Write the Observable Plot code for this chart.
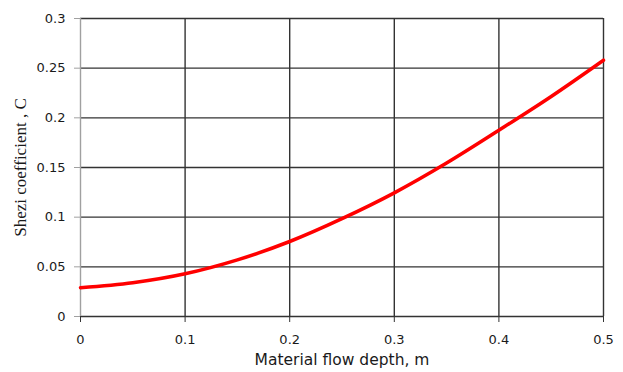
<!DOCTYPE html>
<html>
<head>
<meta charset="utf-8">
<script src="https://cdn.jsdelivr.net/npm/d3@7"></script>
<script src="https://cdn.jsdelivr.net/npm/@observablehq/plot@0.6"></script>
<style>
  html, body { margin: 0; padding: 0; background: #fff; }
  #chart svg { display: block; }
</style>
</head>
<body>
<div id="chart"></div>
<script>
// Data
const depth = [0, 0.05, 0.1, 0.15, 0.2, 0.25, 0.3, 0.35, 0.4, 0.45, 0.5];
const sheziC = [0.029, 0.034, 0.043, 0.057, 0.0755, 0.0985, 0.1245, 0.1545, 0.1875, 0.2215, 0.258];
const xTicks = [0, 0.1, 0.2, 0.3, 0.4, 0.5];
const yTicks = [0, 0.05, 0.1, 0.15, 0.2, 0.25, 0.3];
const xLabel = "Material flow depth, m";
const yLabel = "Shezi coefficient , C";

const data = depth.map((d, i) => ({x: d, y: sheziC[i]}));
const fmt = d => String(d);

const chart = Plot.plot({
  width: 623,
  height: 372,
  marginLeft: 80,
  marginRight: 20,
  marginTop: 18,
  marginBottom: 56,
  style: {fontFamily: "DejaVu Sans", fontSize: "13px", color: "#1a1a1a", background: "#fff"},
  x: {domain: [0, 0.5]},
  y: {domain: [0, 0.3]},
  marks: [
    Plot.gridY(yTicks, {stroke: "#333", strokeOpacity: 1, strokeWidth: 1.4}),
    Plot.gridX(xTicks.filter(d => d > 0), {stroke: "#333", strokeOpacity: 1, strokeWidth: 1.4}),
    Plot.ruleX([0], {stroke: "#a0a0a0", strokeWidth: 1.4}),
    Plot.axisY({ticks: yTicks, tickFormat: fmt, tickSize: 6, tickPadding: 9, stroke: "#a0a0a0", label: null, fontSize: 13}),
    Plot.axisX({ticks: xTicks, tickFormat: fmt, tickSize: 6, tickPadding: 12, stroke: "#333", label: null, fontSize: 13}),
    Plot.text([xLabel], {frameAnchor: "bottom", dy: 48, fontSize: 15.5, fontFamily: "DejaVu Sans", fill: "#1a1a1a"}),
    Plot.text([yLabel], {frameAnchor: "left", textAnchor: "middle", dx: -60, rotate: -90, fontSize: 17, fontFamily: "Liberation Serif", fill: "#1a1a1a"}),
    Plot.line(data, {x: "x", y: "y", stroke: "#ff0000", strokeWidth: 3.5, curve: "monotone-x"})
  ]
});
document.getElementById("chart").appendChild(chart);
</script>
</body>
</html>
